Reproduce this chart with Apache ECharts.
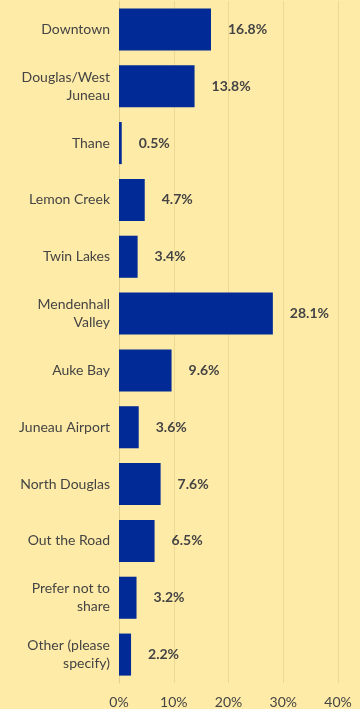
<!DOCTYPE html>
<html><head><meta charset="utf-8">
<script src="https://cdn.jsdelivr.net/npm/echarts@6/dist/echarts.min.js"></script>
<style>html,body{margin:0;padding:0;background:#FEEBA8;}#c{width:360px;height:709px;}</style>
</head><body><div id="c"></div>
<script>
const categories = ["Downtown","Douglas/West\nJuneau","Thane","Lemon Creek","Twin Lakes","Mendenhall\nValley","Auke Bay","Juneau Airport","North Douglas","Out the Road","Prefer not to\nshare","Other (please\nspecify)"];
const values = [16.8,13.8,0.5,4.7,3.4,28.1,9.6,3.6,7.6,6.5,3.2,2.2];
const xTicks = [0,10,20,30,40];
const chart = echarts.init(document.getElementById('c'));
chart.setOption({
  backgroundColor:'#FEEBA8',
  animation:false,
  grid:{left:119,right:22,top:1,bottom:26,containLabel:false},
  xAxis:{type:'value',min:xTicks[0],max:xTicks[xTicks.length-1],interval:10,
    axisLabel:{formatter:'{value}%',color:'#444',fontFamily:'Lato',fontSize:14,margin:12},
    splitLine:{lineStyle:{color:'#EFD891',width:1}},axisLine:{show:false},axisTick:{show:false}},
  yAxis:{type:'category',data:categories,inverse:true,
    axisLabel:{color:'#444',fontFamily:'Lato',fontSize:14,margin:9,lineHeight:18,align:'right'},
    axisLine:{show:true,lineStyle:{color:'#E3CD8A'}},axisTick:{show:false}},
  series:[{type:'bar',data:values,barCategoryGap:'26%',
    itemStyle:{color:'#012A96'},
    label:{show:true,position:'right',distance:17,formatter:'{c}%',color:'#444',fontFamily:'Lato',fontWeight:'bold',fontSize:14}}]
});
</script></body></html>
